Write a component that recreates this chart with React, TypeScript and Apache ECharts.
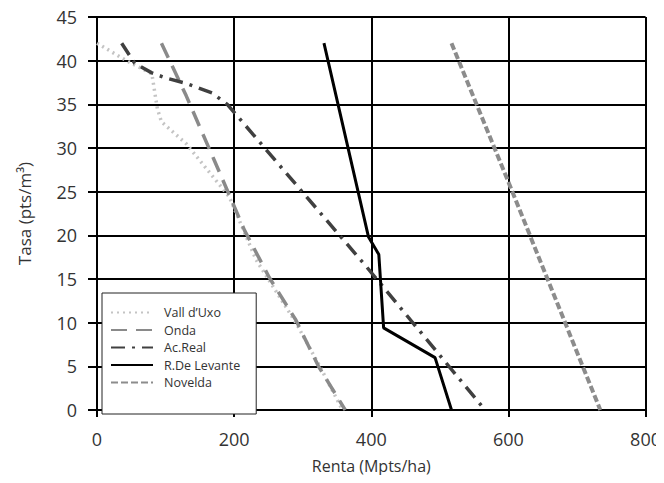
import React, { useEffect, useRef } from "react";
import * as echarts from "echarts";

const seriesNames = ["Vall d\u2019Uxo", "Onda", "Ac.Real", "R.De Levante", "Novelda"];

const vallRenta = [0, 43, 80, 88, 94, 130, 193, 232, 290, 325, 358];
const vallTasa = [42, 40, 38.5, 34.5, 33, 30.5, 24.4, 17.2, 10, 5, 0];

const ondaRenta = [94, 130, 171, 215, 251, 290, 323, 362];
const ondaTasa = [42, 36, 28.6, 20.6, 15.2, 10.3, 5, 0];

const acRealRenta = [36, 55, 80, 101, 130, 168, 190, 393, 566];
const acRealTasa = [42, 39.7, 38.6, 38, 37.4, 36.3, 35, 16.4, 0];

const levanteRenta = [331, 396, 411, 418, 493, 517];
const levanteTasa = [42, 19.8, 17.8, 9.4, 6, 0];

const noveldaRenta = [517, 599, 734];
const noveldaTasa = [42, 26.3, 0];

const xTicks = [0, 200, 400, 600, 800];
const yTicks = [0, 5, 10, 15, 20, 25, 30, 35, 40, 45];

const zip = (xs: number[], ys: number[]) => xs.map((x, i) => [x, ys[i]]);

export default function App() {
  const ref = useRef<HTMLDivElement>(null);
  useEffect(() => {
    if (!ref.current) return;
    const chart = echarts.init(ref.current, undefined, { renderer: "svg" });
    const font = "'Open Sans', sans-serif";
    const styles = [
      { color: "#c4c4c4", width: 3.5, type: [2, 4] as any },
      { color: "#8a8a8a", width: 3.5, type: [16, 9] as any },
      { color: "#404040", width: 3.5, type: [14, 7, 3, 7] as any },
      { color: "#000000", width: 3, type: "solid" as any },
      { color: "#8c8c8c", width: 4, type: [7, 3] as any },
    ];
    const datas = [
      zip(vallRenta, vallTasa),
      zip(ondaRenta, ondaTasa),
      zip(acRealRenta, acRealTasa),
      zip(levanteRenta, levanteTasa),
      zip(noveldaRenta, noveldaTasa),
    ];
    chart.setOption({
      animation: false,
      backgroundColor: "#ffffff",
      grid: { left: 97, right: 16, top: 17, bottom: 73, containLabel: false },
      xAxis: {
        type: "value",
        min: xTicks[0],
        max: xTicks[xTicks.length - 1],
        interval: 200,
        name: "Renta (Mpts/ha)",
        nameLocation: "middle",
        nameGap: 48,
        nameTextStyle: { fontFamily: font, fontSize: 16, color: "#333" },
        axisLine: { show: true, lineStyle: { color: "#000", width: 2 } },
        axisTick: { show: true, length: 7, lineStyle: { color: "#000", width: 2 } },
        axisLabel: { fontFamily: font, fontSize: 18, color: "#333", margin: 20 },
        splitLine: { show: true, lineStyle: { color: "#000", width: 2 } },
      },
      yAxis: {
        type: "value",
        min: yTicks[0],
        max: yTicks[yTicks.length - 1],
        interval: 5,
        name: "Tasa (pts/m\u00b3)",
        nameLocation: "middle",
        nameGap: 64,
        nameTextStyle: { fontFamily: font, fontSize: 17, color: "#333" },
        axisLine: { show: true, lineStyle: { color: "#000", width: 2 } },
        axisTick: { show: true, length: 9, lineStyle: { color: "#000", width: 2 } },
        axisLabel: { fontFamily: font, fontSize: 18, color: "#333", margin: 20 },
        splitLine: { show: true, lineStyle: { color: "#000", width: 2 } },
      },
      legend: {
        orient: "vertical",
        left: 102,
        top: 293,
        padding: [12, 16, 24, 8],
        itemWidth: 42,
        itemHeight: 14,
        itemGap: 2.5,
        backgroundColor: "#ffffff",
        borderColor: "#222",
        borderWidth: 1,
        itemStyle: { opacity: 0 },
        textStyle: {
          fontFamily: font,
          fontSize: 12.5,
          lineHeight: 15,
          color: "#333",
          padding: [0, 0, 0, 6],
        },
        data: seriesNames,
      },
      series: seriesNames.map((name, i) => ({
        name,
        type: "line",
        data: datas[i],
        symbol: "none",
        showSymbol: false,
        lineStyle: styles[i],
        itemStyle: { color: styles[i].color },
        z: 3,
      })),
    });
    return () => chart.dispose();
  }, []);
  return <div ref={ref} style={{ width: 664, height: 483, margin: -8 }} />;
}
